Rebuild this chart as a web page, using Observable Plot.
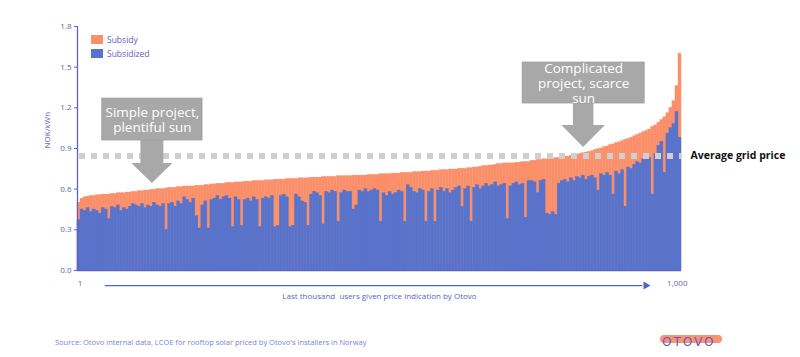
<!DOCTYPE html>
<html>
<head>
<meta charset="utf-8">
<script src="https://cdn.jsdelivr.net/npm/d3@7"></script>
<script src="https://cdn.jsdelivr.net/npm/@observablehq/plot@0.6"></script>
<style>
  body { margin: 0; background: #fff; }
  #wrap { position: relative; width: 800px; height: 357px; font-family: "Open Sans", sans-serif; }
  #chart { position: absolute; left: 0; top: 0; }
  .legend { position: absolute; left: 91px; font-size: 8.5px; color: #5d62c6; display: flex; align-items: center; }
  .legend span.sw { display: inline-block; width: 12px; height: 9px; margin-right: 4px; }
  #source { position: absolute; left: 55px; top: 337px; font-size: 7.5px; color: #7c80d8; }
  #logo { position: absolute; left: 660px; top: 334px; width: 62px; height: 16px; }
  #logo .bar { position: absolute; left: 0; top: 1px; width: 62px; height: 8px; background: #f9875f; border-radius: 4px; opacity: 0.9; }
  #logo .txt { position: absolute; left: 2px; top: 1px; font-size: 12px; letter-spacing: 2px; color: #5a5fc8; font-family: "DejaVu Sans", sans-serif; }
</style>
</head>
<body>
<div id="wrap">
  <div id="chart"></div>
  <div class="legend" style="top:34px"><span class="sw" style="background:#fb8f6a"></span>Subsidy</div>
  <div class="legend" style="top:48px"><span class="sw" style="background:#5873cb"></span>Subsidized</div>
  <div id="source">Source: Otovo internal data, LCOE for rooftop solar priced by Otovo's installers in Norway</div>
  <div id="logo"><div class="bar"></div><div class="txt">OTOVO</div></div>
</div>
<script>
// Each value = one group of 5 users (200 groups = last thousand users), sorted by LCOE
const totalLCOE = [
  0.50,0.53,0.54,0.545,0.55,0.55,0.555,0.555,0.56,0.56,
  0.56,0.565,0.565,0.57,0.57,0.57,0.575,0.575,0.58,0.58,
  0.585,0.585,0.59,0.59,0.595,0.595,0.60,0.60,0.60,0.605,
  0.61,0.61,0.61,0.615,0.615,0.62,0.62,0.62,0.62,0.625,
  0.625,0.625,0.63,0.63,0.635,0.635,0.64,0.64,0.64,0.645,
  0.645,0.645,0.65,0.65,0.65,0.655,0.655,0.655,0.66,0.66,
  0.66,0.66,0.665,0.665,0.665,0.67,0.67,0.67,0.67,0.675,
  0.675,0.675,0.675,0.68,0.68,0.68,0.68,0.685,0.685,0.685,
  0.685,0.69,0.69,0.69,0.69,0.69,0.695,0.695,0.695,0.695,
  0.695,0.70,0.70,0.70,0.70,0.70,0.705,0.705,0.705,0.705,
  0.71,0.71,0.71,0.71,0.715,0.715,0.715,0.72,0.72,0.72,
  0.72,0.725,0.725,0.725,0.73,0.73,0.73,0.735,0.735,0.735,
  0.74,0.74,0.74,0.745,0.745,0.745,0.75,0.75,0.75,0.755,
  0.755,0.76,0.76,0.765,0.77,0.77,0.775,0.775,0.78,0.785,
  0.785,0.79,0.79,0.79,0.79,0.795,0.795,0.80,0.80,0.80,
  0.81,0.81,0.815,0.815,0.82,0.82,0.825,0.825,0.83,0.83,
  0.835,0.84,0.84,0.845,0.85,0.855,0.86,0.865,0.87,0.875,
  0.88,0.89,0.895,0.90,0.91,0.915,0.925,0.93,0.94,0.945,
  0.955,0.965,0.97,0.98,0.99,1.00,1.01,1.02,1.03,1.04,
  1.06,1.07,1.09,1.11,1.13,1.16,1.20,1.25,1.36,1.60
];
const subsidizedLCOE = [
  0.37,0.45,0.44,0.46,0.43,0.45,0.44,0.42,0.46,0.45,
  0.38,0.47,0.46,0.48,0.44,0.46,0.45,0.47,0.49,0.48,
  0.47,0.49,0.46,0.48,0.47,0.50,0.48,0.47,0.49,0.30,
  0.49,0.50,0.47,0.51,0.49,0.54,0.52,0.50,0.53,0.40,
  0.31,0.48,0.51,0.31,0.52,0.53,0.55,0.52,0.54,0.55,
  0.53,0.32,0.54,0.52,0.33,0.52,0.53,0.51,0.54,0.52,
  0.32,0.53,0.54,0.53,0.55,0.32,0.33,0.55,0.56,0.54,
  0.32,0.33,0.56,0.54,0.51,0.50,0.33,0.56,0.58,0.57,
  0.55,0.34,0.58,0.57,0.59,0.58,0.36,0.57,0.59,0.58,
  0.58,0.45,0.48,0.59,0.58,0.60,0.58,0.59,0.60,0.59,
  0.36,0.57,0.55,0.58,0.56,0.57,0.59,0.58,0.36,0.63,
  0.61,0.58,0.57,0.60,0.59,0.36,0.58,0.60,0.36,0.59,
  0.61,0.58,0.60,0.57,0.59,0.61,0.62,0.47,0.60,0.62,
  0.36,0.61,0.63,0.60,0.62,0.64,0.62,0.63,0.65,0.62,
  0.63,0.64,0.38,0.62,0.64,0.65,0.63,0.64,0.39,0.66,
  0.66,0.65,0.57,0.66,0.67,0.42,0.41,0.43,0.41,0.64,
  0.66,0.67,0.65,0.68,0.66,0.69,0.68,0.70,0.67,0.69,
  0.70,0.68,0.59,0.71,0.70,0.72,0.70,0.56,0.73,0.71,
  0.74,0.47,0.76,0.75,0.78,0.80,0.79,0.82,0.84,0.83,
  0.56,0.86,0.92,0.95,0.72,1.01,1.05,1.08,1.17,0.98
];
const seriesNames = ["Subsidy", "Subsidized"];
const yTicks = [0, 0.3, 0.6, 0.9, 1.2, 1.5, 1.8];
const xTickValues = [4, 993];
const xTickLabels = ["1", "1,000"];
const averageGridPrice = 0.845;
const usersPerBar = 5;

// annotation geometry in data units (user index, NOK/kWh)
const calloutText = ["Simple project,\nplentiful sun", "Complicated\nproject, scarce\nsun"];
const calloutBox = [
  {x1: 41, x2: 207, y1: 0.959, y2: 1.268},
  {x1: 737, x2: 939, y1: 1.232, y2: 1.534}
];
const calloutStem = [
  {x1: 105, x2: 143, y1: 0.789, y2: 0.959},
  {x1: 821, x2: 855, y1: 1.069, y2: 1.232}
];
const calloutHead = [
  {z: 0, x: 90, y1: 0.789, y2: 0.789}, {z: 0, x: 124, y1: 0.642, y2: 0.789}, {z: 0, x: 158, y1: 0.789, y2: 0.789},
  {z: 1, x: 802, y1: 1.069, y2: 1.069}, {z: 1, x: 838, y1: 0.907, y2: 1.069}, {z: 1, x: 874, y1: 1.069, y2: 1.069}
];
const axisArrow = {x1: 46, x2: 936, head: 941, y: -0.111};

const bars = totalLCOE.map((t, i) => ({
  x1: i * usersPerBar, x2: (i + 1) * usersPerBar, total: t, sub: subsidizedLCOE[i]
}));
const boxes = calloutBox.map((b, i) => ({...b, text: calloutText[i]}));

const ORANGE = "#fb8f6a", BLUE = "#5873cb", AXIS = "#5d62c6";

const chart = Plot.plot({
  width: 800, height: 357,
  marginLeft: 77, marginRight: 119, marginTop: 26, marginBottom: 87,
  style: {fontFamily: "Open Sans, sans-serif", fontSize: "8px", color: AXIS, background: "transparent"},
  x: {domain: [0, 1000], ticks: xTickValues, tickFormat: (d, i) => xTickLabels[i], tickSize: 0, tickPadding: 10, label: null},
  y: {domain: [0, 1.8], ticks: yTicks, tickFormat: d => d.toFixed(1), tickSize: 3, tickPadding: 3, label: null},
  marks: [
    Plot.rectY(bars, {x1: "x1", x2: "x2", y: "total", fill: ORANGE, stroke: ORANGE, strokeWidth: 0.4, inset: 0}),
    Plot.rectY(bars, {x1: "x1", x2: "x2", y: "sub", fill: BLUE, stroke: BLUE, strokeWidth: 0.4, inset: 0}),
    Plot.ruleY([averageGridPrice], {stroke: "#cfcfcf", strokeWidth: 6, strokeDasharray: "6,6", strokeDashoffset: -2}),
    Plot.text([averageGridPrice], {x: 1000, y: d => d, text: () => "Average grid price", textAnchor: "start", dx: 9, fontSize: 10.5, fontWeight: "bold", fill: "#111", fontFamily: "Open Sans, sans-serif"}),
    Plot.ruleX([0], {stroke: AXIS, strokeWidth: 1.3}),
    Plot.ruleY([0], {stroke: AXIS, strokeWidth: 1.3}),
    Plot.rect(calloutStem, {x1: "x1", x2: "x2", y1: "y1", y2: "y2", fill: "#a8a8a8"}),
    Plot.areaY(calloutHead, {x: "x", y1: "y1", y2: "y2", z: "z", fill: "#a8a8a8", curve: "linear"}),
    Plot.rect(boxes, {x1: "x1", x2: "x2", y1: "y1", y2: "y2", fill: "#a8a8a8", stroke: "#9c9c9c", strokeWidth: 0.8}),
    Plot.text(boxes, {x: d => (d.x1 + d.x2) / 2, y: d => (d.y1 + d.y2) / 2, text: "text", fill: "white", fontSize: 13.5, lineHeight: 1.1, fontFamily: "Open Sans, sans-serif"}),
    Plot.ruleY([axisArrow], {y: "y", x1: "x1", x2: "x2", stroke: "#4f63c9", strokeWidth: 1.2}),
    Plot.dot([axisArrow], {x: "head", y: "y", symbol: "triangle", rotate: 90, r: 3, fill: "#4f63c9", stroke: null}),
    Plot.text(["Last thousand  users given price indication by Otovo"], {frameAnchor: "bottom", dy: 28, fill: AXIS, fontSize: 8}),
    Plot.text(["NOK/kWh"], {frameAnchor: "left", dx: -30, rotate: -90, fill: AXIS, fontSize: 8})
  ]
});
document.getElementById("chart").appendChild(chart);
</script>
</body>
</html>
